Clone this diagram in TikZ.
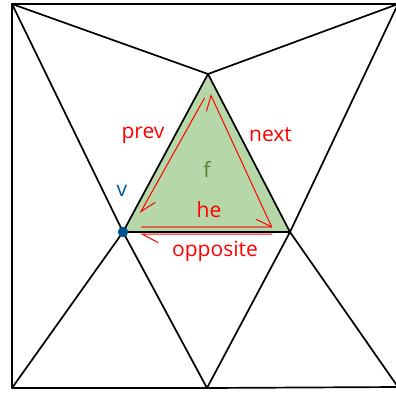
\documentclass[tikz,border=0pt]{standalone}
\usepackage{fontspec}
\setmainfont{Open Sans}
\definecolor{facegreen}{RGB}{182,215,168}
\definecolor{vblue}{RGB}{0,82,147}
\definecolor{fgreen}{RGB}{84,130,53}
\begin{document}
\begin{tikzpicture}[x=1pt,y=-1pt,
  edge/.style={line width=1.7pt, black, line cap=round, line join=round},
  harrow/.style={red, line width=1pt, line cap=round},
  lbl/.style={font=\fontsize{21}{25}\selectfont, text=red, anchor=base, inner sep=0pt}]
\useasboundingbox (0,0) rectangle (396,392);
% vertices
\coordinate (TL) at (12,4);
\coordinate (TR) at (398,4);
\coordinate (BL) at (12,388);
\coordinate (BR) at (398,387);
\coordinate (A) at (208,74);
\coordinate (V) at (123,232);
\coordinate (R) at (290,232);
\coordinate (B) at (207,388);
% face
\fill[facegreen] (A) -- (V) -- (R) -- cycle;
% edges
\draw[edge] (TL) -- (TR) (TL) -- (BL) -- (B) -- (BR) -- (TR);
\draw[edge] (TL) -- (A) -- (TR);
\draw[edge] (TL) -- (V) (TR) -- (R);
\draw[edge] (A) -- (V) -- (R) -- cycle;
\draw[edge] (V) -- (BL) (V) -- (B) -- (R) -- (BR);
% half-edge arrows
\coordinate (heS) at (141,227);
\coordinate (heE) at (272,227);
\coordinate (heB) at (256.5,219.5);
\draw[red, opacity=0.5, line width=2.8pt] (heS) -- (heE);
\draw[harrow] (heB) -- (heE);
\coordinate (opS) at (272,234);
\coordinate (opE) at (142,234);
\coordinate (opB) at (158,242.5);
\draw[harrow] (opS) -- (opE) -- (opB);
\coordinate (pvS) at (204.5,98);
\coordinate (pvE) at (141,211.5);
\coordinate (pvB) at (155,202.5);
\draw[harrow] (pvS) -- (pvE) -- (pvB);
\coordinate (nxS) at (271.5,226.5);
\coordinate (nxE) at (211,95.5);
\coordinate (nxB) at (206.5,111);
\draw[harrow] (nxS) -- (nxE) -- (nxB);
% vertex
\fill[vblue] (V) circle (5.2pt);
% labels
\node[lbl] (prev) at (143,138) {prev};
\node[lbl] (next) at (270.5,141.5) {next};
\node[lbl] (he) at (209,217) {he};
\node[lbl] (opp) at (215,256.5) {opposite};
\node[lbl, text=fgreen] (f) at (207,177) {f};
\node[lbl, text=vblue] (v) at (122,196) {v};
\end{tikzpicture}
\end{document}
